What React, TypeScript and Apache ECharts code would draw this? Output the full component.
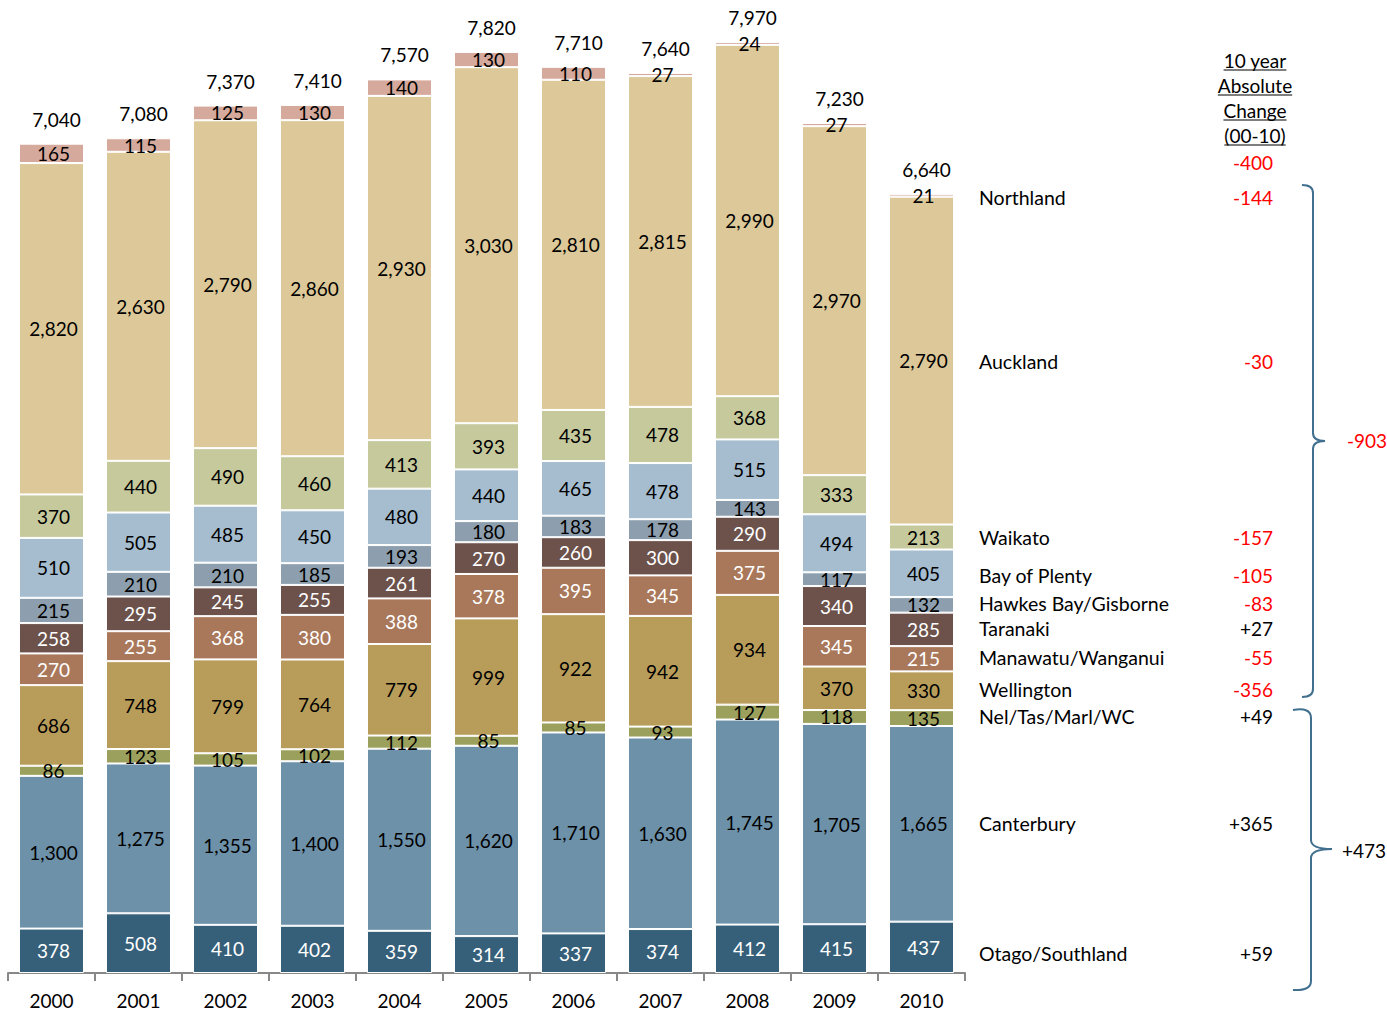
import React, { useEffect, useRef } from "react";
import * as echarts from "echarts";

const years = ["2000", "2001", "2002", "2003", "2004", "2005", "2006", "2007", "2008", "2009", "2010"];

// Stacked from bottom to top
const otagoSouthland = [378, 508, 410, 402, 359, 314, 337, 374, 412, 415, 437];
const canterbury = [1300, 1275, 1355, 1400, 1550, 1620, 1710, 1630, 1745, 1705, 1665];
const nelTasMarlWc = [86, 123, 105, 102, 112, 85, 85, 93, 127, 118, 135];
const wellington = [686, 748, 799, 764, 779, 999, 922, 942, 934, 370, 330];
const manawatuWanganui = [270, 255, 368, 380, 388, 378, 395, 345, 375, 345, 215];
const taranaki = [258, 295, 245, 255, 261, 270, 260, 300, 290, 340, 285];
const hawkesBayGisborne = [215, 210, 210, 185, 193, 180, 183, 178, 143, 117, 132];
const bayOfPlenty = [510, 505, 485, 450, 480, 440, 465, 478, 515, 494, 405];
const waikato = [370, 440, 490, 460, 413, 393, 435, 478, 368, 333, 213];
const auckland = [2820, 2630, 2790, 2860, 2930, 3030, 2810, 2815, 2990, 2970, 2790];
const northland = [165, 115, 125, 130, 140, 130, 110, 27, 24, 27, 21];
const totals = [7040, 7080, 7370, 7410, 7570, 7820, 7710, 7640, 7970, 7230, 6640];

// Right-hand annotation table (top to bottom)
const tableNames = ["", "Northland", "Auckland", "Waikato", "Bay of Plenty", "Hawkes Bay/Gisborne", "Taranaki", "Manawatu/Wanganui", "Wellington", "Nel/Tas/Marl/WC", "Canterbury", "Otago/Southland"];
const tableChanges = ["-400", "-144", "-30", "-157", "-105", "-83", "+27", "-55", "-356", "+49", "+365", "+59"];
const groupChanges = ["-903", "+473"];
const headerLines = ["10 year", "Absolute", "Change", "(00-10)"];

// Layout (pixel positions of annotation rows)
const tableRowY = [162, 197, 361, 537, 575, 603, 628, 657, 689, 716, 823, 953];
const headerY = [60, 85, 110, 135];

const FONT = "Lato, 'Open Sans', sans-serif";
const FS = 19;
const NAME_FS = 19.5;

const seriesDefs = [
  { name: "Otago/Southland", data: otagoSouthland, color: "#365f7a", text: "#ffffff" },
  { name: "Canterbury", data: canterbury, color: "#6d91a9", text: "#000000" },
  { name: "Nel/Tas/Marl/WC", data: nelTasMarlWc, color: "#9ba15c", text: "#000000" },
  { name: "Wellington", data: wellington, color: "#b89d5a", text: "#000000" },
  { name: "Manawatu/Wanganui", data: manawatuWanganui, color: "#a9785b", text: "#ffffff" },
  { name: "Taranaki", data: taranaki, color: "#6c524b", text: "#ffffff" },
  { name: "Hawkes Bay/Gisborne", data: hawkesBayGisborne, color: "#8d9fae", text: "#000000" },
  { name: "Bay of Plenty", data: bayOfPlenty, color: "#a6bdcf", text: "#000000" },
  { name: "Waikato", data: waikato, color: "#c5c99c", text: "#000000" },
  { name: "Auckland", data: auckland, color: "#dcc898", text: "#000000" },
  { name: "Northland", data: northland, color: "#d5a99b", text: "#000000" },
];

const fmt = (v: number) => v.toLocaleString("en-US");

function measure(text: string, font: string): number {
  const c = document.createElement("canvas");
  const ctx = c.getContext("2d");
  if (!ctx) return text.length * 9;
  ctx.font = font;
  return ctx.measureText(text).width;
}

const brace1 =
  "M1302,185 Q1313,185 1313,193 L1313,433 Q1313,441 1325,441 Q1313,441 1313,449 L1313,689 Q1313,697 1302,697";
const brace2 =
  "M1293,710 Q1311,707 1311,718 L1311,840 Q1311,849 1332,849 Q1311,849 1311,858 L1311,981 Q1311,991 1293,990";

export default function App() {
  const ref = useRef<HTMLDivElement>(null);

  useEffect(() => {
    document.body.style.margin = "0";
    if (!ref.current) return;
    echarts.graphic.registerShape("brace1", echarts.graphic.extendPath(brace1, {}));
    echarts.graphic.registerShape("brace2", echarts.graphic.extendPath(brace2, {}));
    const chart = echarts.init(ref.current, null, { renderer: "svg" });

    const series: any[] = seriesDefs.map((s) => ({
      name: s.name,
      type: "bar",
      stack: "total",
      barWidth: 65,
      data: s.data,
      itemStyle: { color: s.color, borderColor: "#ffffff", borderWidth: 1 },
      label: {
        show: true,
        position: "inside",
        offset: [2, 0],
        color: s.text,
        fontFamily: FONT,
        fontSize: FS,
        formatter: (p: any) => fmt(p.value),
      },
    }));
    series.push({
      name: "Total",
      type: "bar",
      stack: "total",
      barWidth: 65,
      data: totals.map(() => 0),
      itemStyle: { color: "rgba(0,0,0,0)", borderWidth: 0 },
      label: {
        show: true,
        position: "top",
        distance: 15,
        offset: [5, 0],
        color: "#000000",
        fontFamily: FONT,
        fontSize: FS,
        formatter: (p: any) => fmt(totals[p.dataIndex]),
      },
    });

    const graphic: any[] = [];
    const headerFont = `${FS}px ${FONT}`;
    const nameFont = `${NAME_FS}px ${FONT}`;
    headerLines.forEach((t, i) => {
      graphic.push({
        type: "text",
        x: 1255,
        y: headerY[i],
        style: { text: t, font: headerFont, fill: "#000", textAlign: "center", textVerticalAlign: "middle" },
      });
      const w = measure(t, headerFont);
      graphic.push({
        type: "line",
        shape: { x1: 1255 - w / 2, y1: headerY[i] + 10, x2: 1255 + w / 2, y2: headerY[i] + 10 },
        style: { stroke: "#000", lineWidth: 1.2 },
      });
    });
    tableNames.forEach((n, i) => {
      if (n) {
        graphic.push({
          type: "text",
          x: 979,
          y: tableRowY[i],
          style: { text: n, font: nameFont, fill: "#000", textAlign: "left", textVerticalAlign: "middle" },
        });
      }
      const ch = tableChanges[i];
      graphic.push({
        type: "text",
        x: 1273,
        y: tableRowY[i],
        style: {
          text: ch,
          font: headerFont,
          fill: ch.startsWith("-") ? "#ff0000" : "#000000",
          textAlign: "right",
          textVerticalAlign: "middle",
        },
      });
    });
    graphic.push({ type: "brace1", x: 0, y: 0, style: { stroke: "#41708f", fill: "none", lineWidth: 2 } });
    graphic.push({ type: "brace2", x: 0, y: 0, style: { stroke: "#41708f", fill: "none", lineWidth: 2 } });
    graphic.push({
      type: "text",
      x: 1347,
      y: 440,
      style: { text: groupChanges[0], font: headerFont, fill: "#ff0000", textAlign: "left", textVerticalAlign: "middle" },
    });
    graphic.push({
      type: "text",
      x: 1342,
      y: 850,
      style: { text: groupChanges[1], font: headerFont, fill: "#000", textAlign: "left", textVerticalAlign: "middle" },
    });

    chart.setOption({
      animation: false,
      backgroundColor: "#ffffff",
      grid: { left: 8, right: 422, top: 33, bottom: 38, containLabel: false },
      xAxis: {
        type: "category",
        data: years,
        boundaryGap: true,
        axisLine: { show: true, lineStyle: { color: "#888888", width: 2 } },
        axisTick: { show: true, length: 8, alignWithLabel: false, lineStyle: { color: "#888888", width: 2 } },
        axisLabel: { color: "#000", fontFamily: FONT, fontSize: FS, margin: 18 },
      },
      yAxis: {
        type: "value",
        min: 0,
        max: 8000,
        show: false,
        splitLine: { show: false },
      },
      series,
      graphic,
    });

    return () => chart.dispose();
  }, []);

  return <div ref={ref} style={{ position: "absolute", left: 0, top: 0, width: 1387, height: 1011 }} />;
}
